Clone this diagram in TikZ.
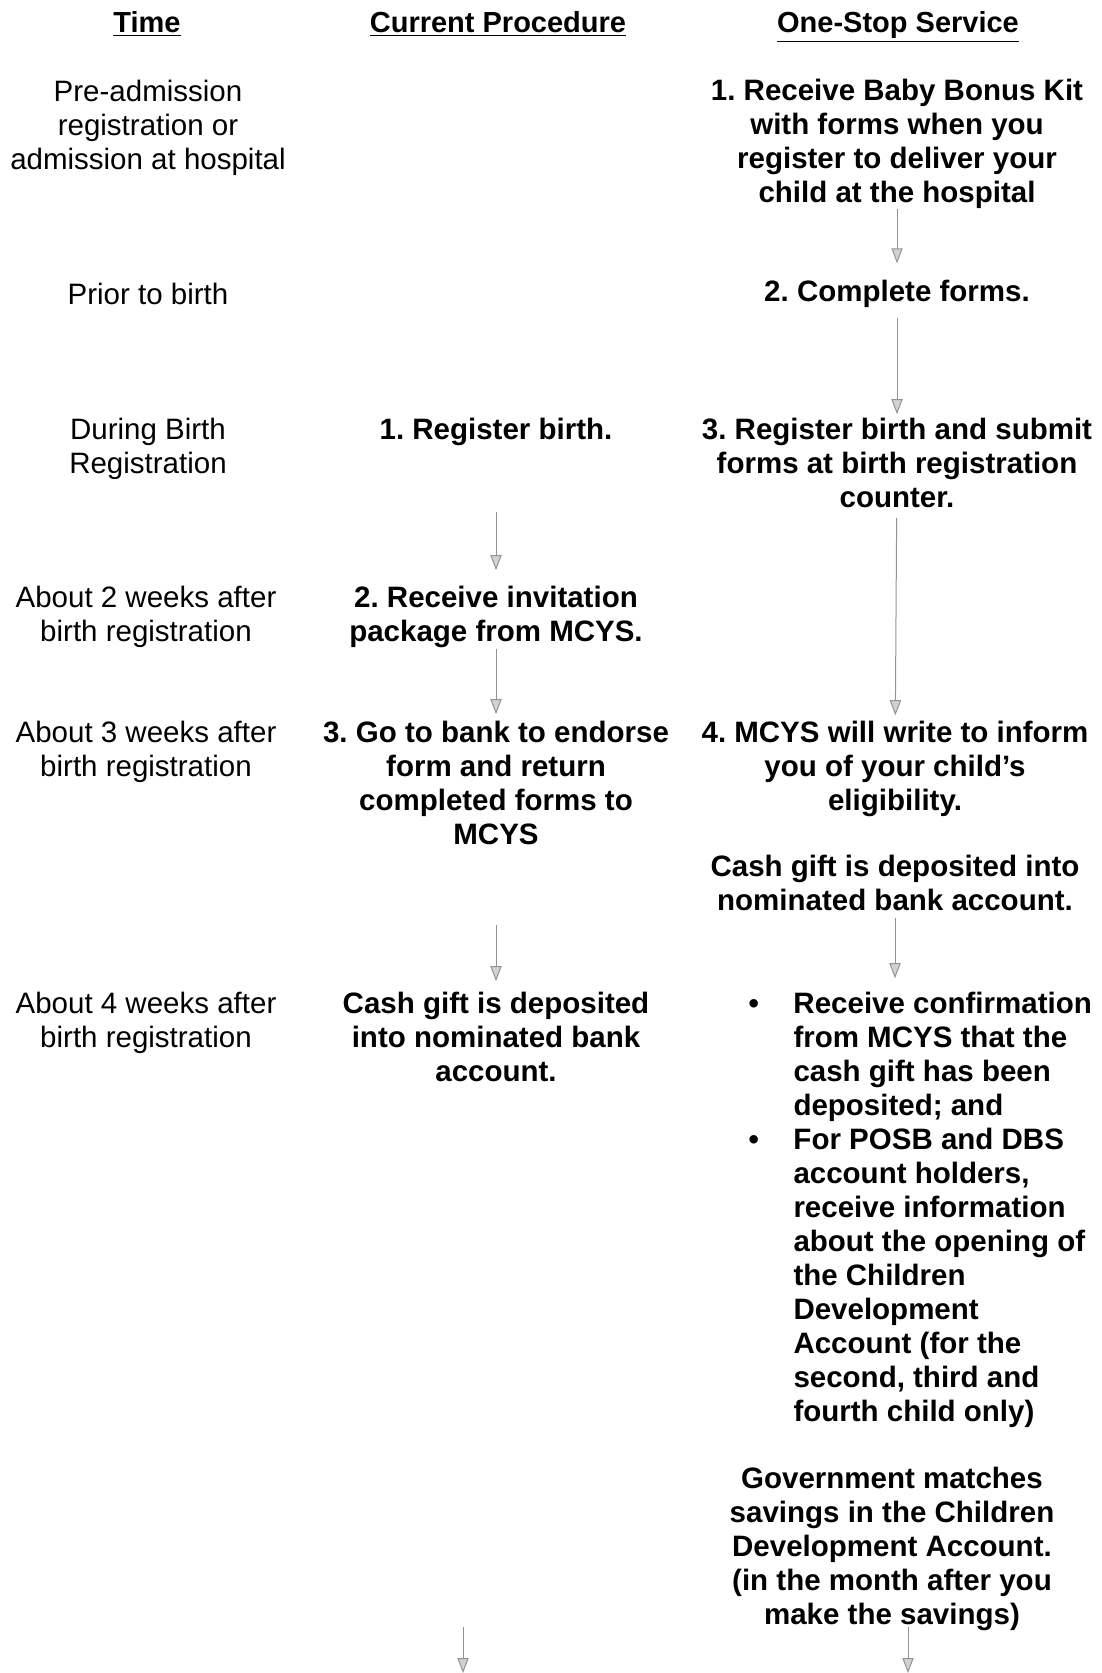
\documentclass[tikz,border=0pt]{standalone}
\usepackage{fontspec}
\setmainfont{Liberation Sans}
\usetikzlibrary{arrows.meta}
\frenchspacing

\begin{document}
\begin{tikzpicture}[
  x=0.4pt,y=-0.4pt,
  headtxt/.style={inner sep=0pt,anchor=base,font=\fontsize{11.6}{13.6}\selectfont\bfseries},
  timetxt/.style={inner sep=0pt,align=center,font=\fontsize{11.8}{13.6}\selectfont},
  steptxt/.style={inner sep=0pt,align=center,font=\fontsize{11.8}{13.6}\selectfont\bfseries},
  flow/.style={-{Triangle[length=6pt,width=4.5pt,fill=gray!35]},draw=gray!85,line width=0.4pt}
]
\useasboundingbox (0,0) rectangle (1101,1673);

% column heads
\node[headtxt] (hTime) at (147,32) {\underline{Time}};
\node[headtxt] (hCur) at (498,32) {\underline{Current Procedure}};
\node[headtxt] (hOne) at (898,32) {\underline{One-Stop Service}};

% time column
\node[timetxt] (t1) at (148,128) {Pre-admission\\registration or\\admission at hospital};
\node[timetxt] (t2) at (148,294) {Prior to birth};
\node[timetxt] (t3) at (148,449) {During Birth\\Registration};
\node[timetxt] (t4) at (146,617) {About 2 weeks after\\birth registration};
\node[timetxt] (t5) at (146,752) {About 3 weeks after\\birth registration};
\node[timetxt] (t6) at (146,1023) {About 4 weeks after\\birth registration};

% current procedure
\node[steptxt] (c1) at (496,432) {1. Register birth.};
\node[steptxt] (c2) at (496,617) {2. Receive invitation\\package from MCYS.};
\node[steptxt] (c3) at (496,783) {3. Go to bank to endorse\\form and return\\completed forms to\\MCYS};
\node[steptxt] (c4) at (496,1037) {Cash gift is deposited\\into nominated bank\\account.};
\coordinate (cTop) at (463,1627);
\coordinate (cEnd) at (463,1673);

% one-stop service
\node[steptxt] (o1) at (897,144) {1. Receive Baby Bonus Kit\\with forms when you\\register to deliver your\\child at the hospital};
\node[steptxt] (o2) at (897,294) {2. Complete forms.};
\node[steptxt] (o3) at (897,463) {3. Register birth and submit\\forms at birth registration\\counter.};
\node[steptxt] (o4) at (895,769) {4. MCYS will write to inform\\you of your child's\\eligibility.};
\node[steptxt] (o5) at (895,883) {Cash gift is deposited into\\nominated bank account.};
\node[inner sep=0pt,anchor=base west,font=\fontsize{11.8}{13.6}\selectfont\bfseries] (o6) at (748,1013)
  {\begin{tabular}[t]{@{}p{18pt}@{}l@{}}
   \textbullet & Receive confirmation\\
   & from MCYS that the\\
   & cash gift has been\\
   & deposited; and\\
   \textbullet & For POSB and DBS\\
   & account holders,\\
   & receive information\\
   & about the opening of\\
   & the Children\\
   & Development\\
   & Account (for the\\
   & second, third and\\
   & fourth child only)
   \end{tabular}};
\node[steptxt] (o7) at (892,1549) {Government matches\\savings in the Children\\Development Account.\\(in the month after you\\make the savings)};
\coordinate (oTop) at (908,1627);
\coordinate (oEnd) at (908,1673);

% arrows
\draw[flow,shorten <=26.2pt,shorten >=6.2pt] (c1) -- (c2);
\draw[flow,shorten <=0.2pt,shorten >=2.6pt] (c2) -- (c3);
\draw[flow,shorten <=31.8pt,shorten >=4.2pt] (c3) -- (c4);
\draw[flow] (cTop) -- (cEnd);
\draw[flow,shorten >=6.6pt] (o1) -- (o2);
\draw[flow,shorten <=3.8pt,shorten >=1.4pt] (o2) -- (o3);
\draw[flow,shorten <=3.8pt,shorten >=2.2pt] (o3) -- (o4);
\draw[flow,shorten <=2.6pt,shorten >=4.2pt] (o5.south) -- (o5.south |- o6.north);
\draw[flow] (oTop) -- (oEnd);
\end{tikzpicture}
\end{document}
